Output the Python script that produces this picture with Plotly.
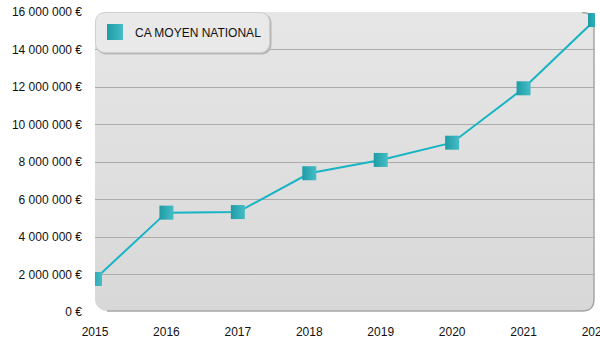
import base64
import plotly.graph_objects as go

years = [2015, 2016, 2017, 2018, 2019, 2020, 2021, 2022]
ca_moyen = [1760000, 5300000, 5330000, 7400000, 8110000, 9030000, 11930000, 15570000]
series_name = "CA MOYEN NATIONAL"
y_ticks = [0, 2000000, 4000000, 6000000, 8000000, 10000000, 12000000, 14000000, 16000000]
y_ticktext = ["{:,}".format(v).replace(",", " ") + " €" for v in y_ticks]

bg_svg = """<svg xmlns='http://www.w3.org/2000/svg' width='500' height='300' viewBox='0 0 500 300' preserveAspectRatio='none'>
<defs><linearGradient id='g' x1='0' y1='0' x2='0' y2='1'>
<stop offset='0' stop-color='#e6e6e6'/><stop offset='1' stop-color='#d8d8d8'/></linearGradient></defs>
<rect x='0' y='0' width='499' height='299' rx='12' ry='12' fill='url(#g)'/>
<path d='M487,0.5 Q499,0.5 499,12 L499,287 Q499,299 487,299 L12,299' fill='none' stroke='#a6a6a6' stroke-width='1.5'/>
</svg>"""
leg_svg = """<svg xmlns='http://www.w3.org/2000/svg' width='178' height='44' viewBox='0 0 178 44' preserveAspectRatio='none'>
<rect x='1.5' y='1.5' width='175' height='41' rx='9' ry='9' fill='#b8b8b8'/>
<rect x='0.5' y='0.5' width='174' height='40' rx='9' ry='9' fill='#e9e9e9' stroke='#cfcfcf'/>
</svg>"""

def data_uri(s):
    return "data:image/svg+xml;base64," + base64.b64encode(s.encode()).decode()

fig = go.Figure()
fig.add_trace(go.Scatter(
    x=years, y=ca_moyen, mode="lines+markers", showlegend=False,
    line=dict(color="#17b4c4", width=2),
    marker=dict(symbol="square", size=14, color="#1e9ca6",
                gradient=dict(type="horizontal", color="#45bdc5"),
                line=dict(width=0)),
))
fig.add_trace(go.Scatter(
    x=[None], y=[None], mode="markers", name=series_name,
    marker=dict(symbol="square", size=20, color="#1e9ca6",
                gradient=dict(type="horizontal", color="#45bdc5"),
                line=dict(width=0)),
))

fig.update_layout(
    width=600, height=350,
    margin=dict(l=95, r=5, t=12, b=38),
    paper_bgcolor="white", plot_bgcolor="rgba(0,0,0,0)",
    font=dict(family="Liberation Sans, Arial, sans-serif", size=12, color="#222"),
    showlegend=True,
    legend=dict(x=0, xanchor="left", y=0.933, yanchor="middle",
                bgcolor="rgba(0,0,0,0)", borderwidth=0,
                font=dict(size=12, color="#111"), itemsizing="trace"),
    images=[
        dict(source=data_uri(bg_svg), xref="paper", yref="paper", x=0, y=1,
             sizex=1, sizey=1, xanchor="left", yanchor="top",
             sizing="stretch", layer="below"),
        dict(source=data_uri(leg_svg), xref="paper", yref="paper", x=0, y=1,
             sizex=178 / 500, sizey=44 / 300, xanchor="left", yanchor="top",
             sizing="stretch", layer="above"),
    ],
    xaxis=dict(range=[2015, 2022], tickvals=years, showgrid=False, zeroline=False,
               showline=False, ticks="", automargin=False, ticklabelstandoff=11,
               ticklabeloverflow="allow",
               tickfont=dict(size=12, color="#111")),
    yaxis=dict(range=[0, 16000000], tickmode="array", tickvals=y_ticks,
               ticktext=y_ticktext, showgrid=True, gridcolor="#acacac", gridwidth=1,
               zeroline=False, showline=False, ticks="", automargin=False,
               ticklabelstandoff=12, ticklabeloverflow="allow",
               tickfont=dict(size=12, color="#111")),
)
fig.write_html("out.html")
